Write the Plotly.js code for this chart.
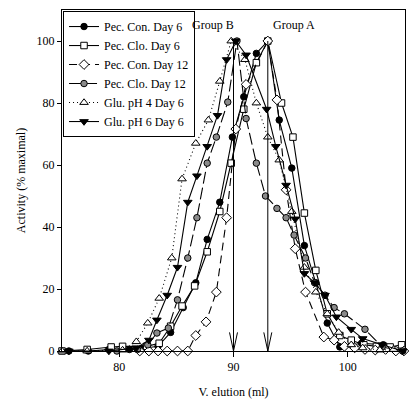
<!DOCTYPE html>
<html>
<head>
<meta charset="utf-8">
<script src="https://cdn.plot.ly/plotly-3.0.1.min.js"></script>
<style>html,body{margin:0;padding:0;background:#fff;}#chart{width:413px;height:403px;}</style>
</head>
<body>
<div id="chart"></div>
<script>
// Pec. Con. Day 6
const pcd6X = [75.6, 77.3, 79.1, 80.9, 82.0, 83.4, 84.5, 85.6, 86.7, 87.7, 88.8, 89.9, 90.9, 92.0, 93.0, 94.0, 95.1, 96.2, 97.2, 98.2, 99.3, 101.2, 103.1, 104.8];
const pcd6Y = [0, 0, 0.5, 0.5, 0.8, 1.5, 6, 14, 22, 36, 48, 69, 82, 96, 100, 74.5, 59, 34, 22, 9, 1.3, 2.5, 2, 0];
// Pec. Clo. Day 6
const pcl6X = [75.0, 77.2, 79.3, 80.3, 82.4, 83.5, 84.5, 85.5, 86.6, 87.7, 88.8, 89.8, 90.9, 92.0, 93.0, 94.2, 95.2, 96.2, 97.2, 98.2, 99.3, 100.3, 101.4, 102.5, 103.7, 104.7];
const pcl6Y = [0, 0.5, 1.3, 1.5, 1.5, 2.5, 8, 14.5, 21, 32, 45, 60.6, 78, 93, 100, 80, 69, 44.5, 26, 12, 5, 3.5, 2, 1.5, 1.3, 2];
// Pec. Con. Day 12
const pcd12X = [81.8, 82.6, 83.4, 84.2, 85.1, 86.0, 86.7, 87.6, 88.5, 89.4, 90.2, 91.1, 93.0, 93.8, 94.6, 95.4, 96.3, 97.9, 98.8, 99.7, 100.6, 101.5, 102.4, 103.3, 104.2, 104.9];
const pcd12Y = [0, 0, 0, 0, 0, 0, 5, 9.4, 19, 43, 71.6, 86, 100, 81, 52, 33, 19, 4.5, 3.5, 1.5, 1, 0.5, 0.3, 0.5, 0, 0];
// Pec. Clo. Day 12
const pcl12X = [79.8, 81.6, 82.5, 83.3, 84.3, 85.1, 86.0, 86.8, 87.7, 88.5, 89.5, 90.3, 91.1, 92.0, 92.8, 93.8, 94.6, 95.3, 96.3, 97.1, 98.0, 98.8, 99.7, 101.5, 103.0, 104.8];
const pcl12Y = [0, 0.5, 2, 5.8, 7.4, 16.5, 30, 43, 60.6, 69, 80.3, 100, 75, 60.6, 50, 46, 43, 37.4, 30, 22, 18, 14, 12, 7, 1.3, 0];
// Glu. pH 4 Day 6
const gp4X = [75.0, 77.2, 80.3, 81.5, 82.5, 83.5, 84.6, 85.5, 86.7, 87.8, 88.8, 89.8, 91.0, 92.0, 93.0, 94.0, 95.1, 96.2, 97.2, 98.2, 99.2, 100.3, 101.3, 102.8, 104.0];
const gp4Y = [0, 0, 0.3, 3, 9, 17, 30, 55.5, 67, 74.5, 87, 100, 94, 80, 69, 61.6, 45, 27, 19, 12, 6, 2, 1, 0.3, 0.5];
// Glu. pH 6 Day 6
const gp6X = [75.6, 79.1, 81.5, 82.6, 83.3, 84.2, 85.1, 86.0, 86.8, 87.7, 88.6, 89.4, 90.2, 91.1, 92.9, 93.7, 94.6, 95.4, 96.2, 97.1, 98.0, 99.0, 100.3, 101.3, 103.0, 104.8];
const gp6Y = [0, 0, 1, 3.5, 10, 18, 27, 48, 56.5, 66, 76, 94, 100, 95.5, 78, 66, 53.5, 42.6, 25, 22, 18, 11, 7, 4, 2, 0];

const seriesNames = ['Pec. Con. Day 6', 'Pec. Clo. Day 6', 'Pec. Con. Day 12', 'Pec. Clo. Day 12', 'Glu. pH 4 Day 6', 'Glu. pH 6 Day 6'];
const groupX = [90, 93];
const groupPeak = [100, 100];
const groupLabels = ['Group B', 'Group A'];
const xTicks = [80, 90, 100];
const yTicks = [0, 20, 40, 60, 80, 100];

const FONT = 'Liberation Serif, Times New Roman, serif';
const xs = [pcd6X, pcl6X, pcd12X, pcl12X, gp4X, gp6X];
const ys = [pcd6Y, pcl6Y, pcd12Y, pcl12Y, gp4Y, gp6Y];
const styles = [
  {dash: 'solid', symbol: 'circle', size: 6.5, fill: '#000'},
  {dash: 'solid', symbol: 'square', size: 6.5, fill: '#fff'},
  {dash: '8px,5px', symbol: 'diamond', size: 7.5, fill: '#fff'},
  {dash: '12px,4px', symbol: 'circle', size: 6.5, fill: '#8a8a8a'},
  {dash: '1px,3px', symbol: 'triangle-up', size: 7.5, fill: '#fff'},
  {dash: 'solid', symbol: 'triangle-down', size: 7.5, fill: '#000'}
];

const traces = seriesNames.map((n, i) => ({
  type: 'scatter', mode: 'lines+markers', name: n,
  x: xs[i], y: ys[i], cliponaxis: false,
  line: {color: '#000', width: 1.1, dash: styles[i].dash},
  marker: {symbol: styles[i].symbol, size: styles[i].size, color: styles[i].fill, line: {color: '#000', width: 1}}
}));

const shapes = [];
const annotations = [];
groupX.forEach((gx, i) => {
  shapes.push({type: 'line', xref: 'x', yref: 'y', x0: gx, x1: gx, y0: groupPeak[i], y1: 0, line: {color: '#000', width: 1}});
  shapes.push({type: 'path', xref: 'x', yref: 'y', path: `M${gx - 0.35},6 L${gx},0 L${gx + 0.35},6`, line: {color: '#000', width: 1}});
  annotations.push({xref: 'x', yref: 'y', x: gx + (i === 0 ? 0.2 : 0.3), y: 105.2, text: groupLabels[i], showarrow: false,
    xanchor: i === 0 ? 'right' : 'left', yanchor: 'middle', font: {family: FONT, size: 12, color: '#000'}});
});

const layout = {
  width: 413, height: 403,
  margin: {l: 62, r: 8, t: 10, b: 52},
  paper_bgcolor: '#fff', plot_bgcolor: '#fff',
  font: {family: FONT, size: 12, color: '#000'},
  showlegend: true,
  legend: {x: 0.003, y: 0.997, xanchor: 'left', yanchor: 'top', bgcolor: '#fff', bordercolor: '#000', borderwidth: 1,
    font: {family: FONT, size: 12, color: '#000'}},
  xaxis: {range: [75, 105], tickvals: xTicks, ticks: 'outside', ticklen: 5, tickcolor: '#000',
    showline: true, linecolor: '#000', linewidth: 1, mirror: true, showgrid: false, zeroline: false,
    title: {text: 'V. elution (ml)', font: {family: FONT, size: 12}, standoff: 14}},
  yaxis: {range: [0, 110], tickvals: yTicks, ticks: 'outside', ticklen: 4, tickcolor: '#000',
    showline: true, linecolor: '#000', linewidth: 1, mirror: true, showgrid: false, zeroline: false,
    title: {text: 'Activity (% maximal)', font: {family: FONT, size: 12}, standoff: 8}},
  shapes: shapes, annotations: annotations
};

Plotly.newPlot('chart', traces, layout, {staticPlot: true});
</script>
</body>
</html>
